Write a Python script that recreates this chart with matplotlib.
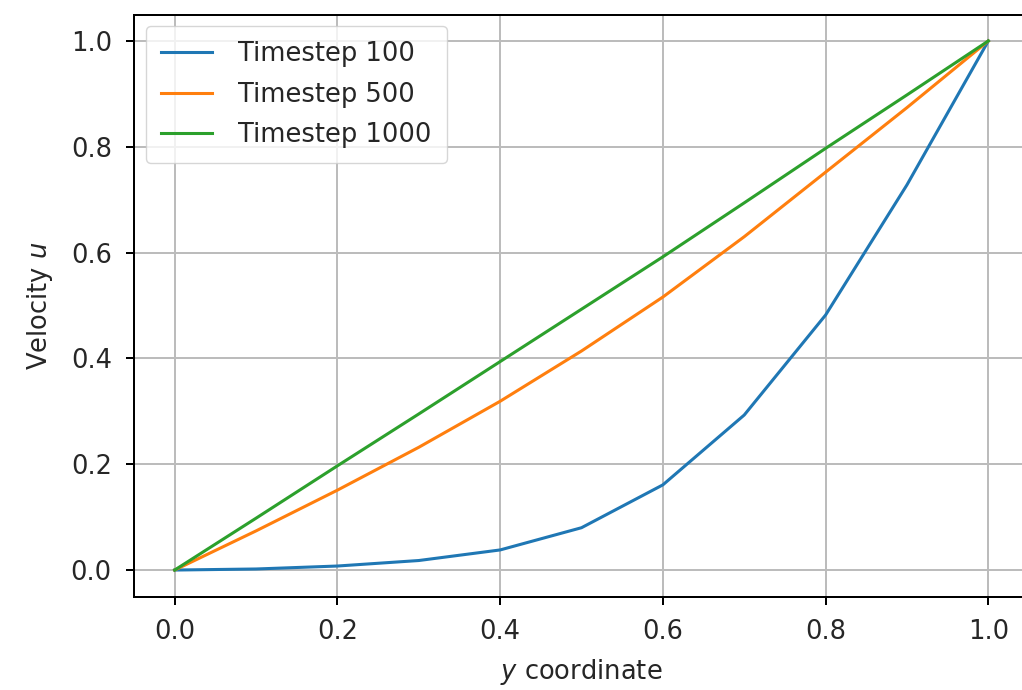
import numpy as np
import matplotlib
matplotlib.use("Agg")
import matplotlib.pyplot as plt

# Velocity profiles (Couette flow start-up)
y_coord = [0.0, 0.1, 0.2, 0.3, 0.4, 0.5, 0.6, 0.7, 0.8, 0.9, 1.0]
u_100 = [0.0, 0.002, 0.0076, 0.018, 0.038, 0.080, 0.161, 0.293, 0.482, 0.728, 1.0]
u_500 = [0.0, 0.074, 0.151, 0.232, 0.319, 0.414, 0.516, 0.630, 0.752, 0.874, 1.0]
u_1000 = [0.0, 0.098, 0.197, 0.295, 0.394, 0.493, 0.592, 0.694, 0.797, 0.898, 1.0]
labels = ["Timestep 100", "Timestep 500", "Timestep 1000"]

s = 1.8  # scale of the original rendering
plt.rcParams.update({
    "font.size": 18.5,
    "text.color": "#262626",
    "axes.labelcolor": "#262626",
    "xtick.labelcolor": "#262626",
    "ytick.labelcolor": "#262626",
    "axes.linewidth": 0.8 * s,
    "grid.linewidth": 0.8 * s,
    "grid.color": "#bcbcbc",
    "xtick.major.width": 0.8 * s,
    "ytick.major.width": 0.8 * s,
    "xtick.major.size": 6,
    "ytick.major.size": 6,
    "xtick.major.pad": 10,
    "ytick.major.pad": 10,
    "legend.fontsize": 18.5,
})

fig = plt.figure(figsize=(10.22, 6.90), dpi=100)
ax = fig.add_axes([134 / 1022, 1 - 596.5 / 690, 895 / 1022, 582 / 690])

for u, lab in zip([u_100, u_500, u_1000], labels):
    ax.plot(y_coord, u, label=lab, linewidth=2.2)

ax.set_xlabel("$y$ coordinate", labelpad=9)
ax.set_ylabel("Velocity $u$", labelpad=11)
ax.grid(True)
ax.legend(loc="upper left", borderaxespad=0.45, borderpad=0.6,
          handletextpad=1.0, labelspacing=0.55)

fig.savefig("out.png", dpi=100)
